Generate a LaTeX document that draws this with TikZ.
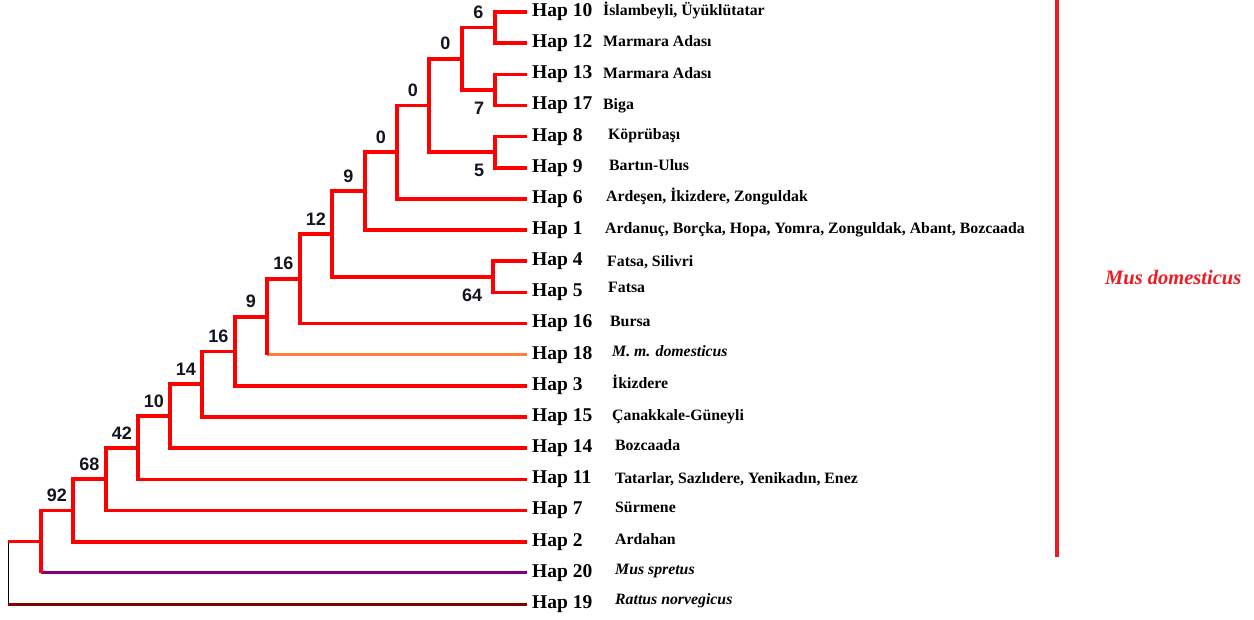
\documentclass[tikz,border=0pt]{standalone}
\usepackage{fontspec}
\setmainfont{Liberation Serif}
\newfontfamily\bootfont{Liberation Sans}

\newcommand{\vartip}{527}
\newcommand{\vartop}{12}
\newcommand{\vardy}{31.16}
\definecolor{treered}{RGB}{255,0,0}
\definecolor{barred}{RGB}{237,28,36}
\definecolor{haporange}{RGB}{255,127,64}
\definecolor{sprpurple}{RGB}{128,0,128}
\definecolor{ratmaroon}{RGB}{128,0,0}
\definecolor{bootink}{RGB}{20,20,30}

\begin{document}
\begin{tikzpicture}[x=1pt, y=-1pt,
	branch/.style={line width=3.6pt, color=treered},
	haplabel/.style={anchor=west, inner sep=0pt, xshift=5pt, font=\fontsize{19.5}{20}\selectfont\bfseries},
	placelabel/.style={anchor=base west, inner sep=0pt, font=\fontsize{15.8}{16}\selectfont\bfseries},
	bootup/.style={above=7pt, inner sep=0pt, text=bootink, font=\bootfont\fontsize{18}{18}\selectfont\bfseries},
	bootdown/.style={anchor=north east, inner sep=0pt, xshift=-9pt, yshift=-10pt, text=bootink, font=\bootfont\fontsize{18}{18}\selectfont\bfseries}]

	\useasboundingbox (0,0) rectangle (1254,619);

	% leaves
	\foreach \i/\hap/\placex/\placedy/\place in {
		0/10/603/3.7/{İslambeyli, Üyüklütatar},
		1/12/603/3.7/{Marmara Adası},
		2/13/603/3.7/{Marmara Adası},
		3/17/603/3.7/{Biga},
		4/8/608/3/{Köprübaşı},
		5/9/609/3/{Bartın-Ulus},
		6/6/606/2.7/{Ardeşen, İkizdere, Zonguldak},
		7/1/605/3/{Ardanuç, Borçka, Hopa, Yomra, Zonguldak, Abant, Bozcaada},
		8/4/607/5/{Fatsa, Silivri},
		9/5/608/0.5/{Fatsa},
		10/16/610/3/{Bursa},
		11/18/612/1.7/{\textit{M. m. domesticus}},
		12/3/612/3/{İkizdere},
		13/15/612/3.7/{Çanakkale-Güneyli},
		14/14/615/2.7/{Bozcaada},
		15/11/615/4/{Tatarlar, Sazlıdere, Yenikadın, Enez},
		16/7/615/1.7/{Sürmene},
		17/2/615/3/{Ardahan},
		18/20/615/2/{\textit{Mus spretus}},
		19/19/615/0.5/{\textit{Rattus norvegicus}}}
	{
		\coordinate (t\hap) at (\vartip, \vartop+\vardy*\i);
		\node [haplabel] (h\hap) at (t\hap) {Hap \hap};
		\node [placelabel] (p\hap) at (\placex, \vartop+\vardy*\i+\placedy) {\place};
	}

	% inner nodes
	\coordinate (n1) at (495, 27.58);
	\coordinate (n2) at (495, 89.9);
	\coordinate (n3) at (462, 58.74);
	\coordinate (n4) at (495, 152.22);
	\coordinate (n5) at (429, 105.48);
	\coordinate (n6) at (397, 152.22);
	\coordinate (n7) at (365, 191.17);
	\coordinate (n8) at (493, 276.86);
	\coordinate (n9) at (332, 234.02);
	\coordinate (n10) at (300, 278.81);
	\coordinate (n11) at (267, 316.79);
	\coordinate (n12) at (235, 351.36);
	\coordinate (n13) at (202, 384.22);
	\coordinate (n14) at (170, 416.23);
	\coordinate (n15) at (138, 447.82);
	\coordinate (n16) at (106, 479.19);
	\coordinate (n17) at (73, 510.46);
	\coordinate (n18) at (41, 541.67);
	\coordinate (r0) at (8, 541.67);
	\coordinate (r1) at (r0 |- t19);
	\coordinate (k18) at (n11 |- t18);
	\coordinate (k20) at (n18 |- t20);

	% outgroups
	\draw [line width=3pt, color=haporange] (k18) -- (t18);
	\draw [line width=3pt, color=sprpurple] (k20) -- (t20);
	\draw [line width=3pt, color=ratmaroon] (r1) -- (t19);
	\draw [line width=1pt] (r0) -- (r1);

	% branches
	\draw [branch] (t10) -| (n1) |- (t12);
	\draw [branch] (t13) -| (n2) |- (t17);
	\draw [branch] (t8) -| (n4) |- (t9);
	\draw [branch] (t4) -| (n8) |- (t5);
	\draw [branch] (n1) -| (n3) node [bootup, pos=0.25] (b1) {6} |- (n2) node [bootdown] (b2) {7};
	\draw [branch] (n3) -| (n5) node [bootup, pos=0.25] (b3) {0} |- (n4) node [bootdown] (b4) {5};
	\draw [branch] (n5) -| (n6) node [bootup, pos=0.25] (b5) {0} |- (t6);
	\draw [branch] (n6) -| (n7) node [bootup, pos=0.25] (b6) {0} |- (t1);
	\draw [branch] (n7) -| (n9) node [bootup, pos=0.25] (b7) {9} |- (n8) node [bootdown] (b8) {64};
	\draw [branch] (n9) -| (n10) node [bootup, pos=0.25] (b9) {12} |- (t16);
	\draw [branch] (n10) -| (n11) node [bootup, pos=0.25] (b10) {16} -- (k18);
	\draw [branch] (n11) -| (n12) node [bootup, pos=0.25] (b11) {9} |- (t3);
	\draw [branch] (n12) -| (n13) node [bootup, pos=0.25] (b12) {16} |- (t15);
	\draw [branch] (n13) -| (n14) node [bootup, pos=0.25] (b13) {14} |- (t14);
	\draw [branch] (n14) -| (n15) node [bootup, pos=0.25] (b14) {10} |- (t11);
	\draw [branch] (n15) -| (n16) node [bootup, pos=0.25] (b15) {42} |- (t7);
	\draw [branch] (n16) -| (n17) node [bootup, pos=0.25] (b16) {68} |- (t2);
	\draw [branch] (n17) -| (n18) node [bootup, pos=0.25] (b17) {92} -- (k20);
	\draw [branch] (n18) -- (r0);

	% clade bar
	\coordinate (bartop) at (1057, 0);
	\coordinate (barbot) at (1057, 557);
	\draw [line width=4pt, color=barred] (bartop) -- (barbot);
	\node [anchor=base west, inner sep=0pt, color=barred, font=\fontsize{20.5}{21}\selectfont\bfseries\itshape] (clade) at (1105, 284) {Mus domesticus};

\end{tikzpicture}
\end{document}
